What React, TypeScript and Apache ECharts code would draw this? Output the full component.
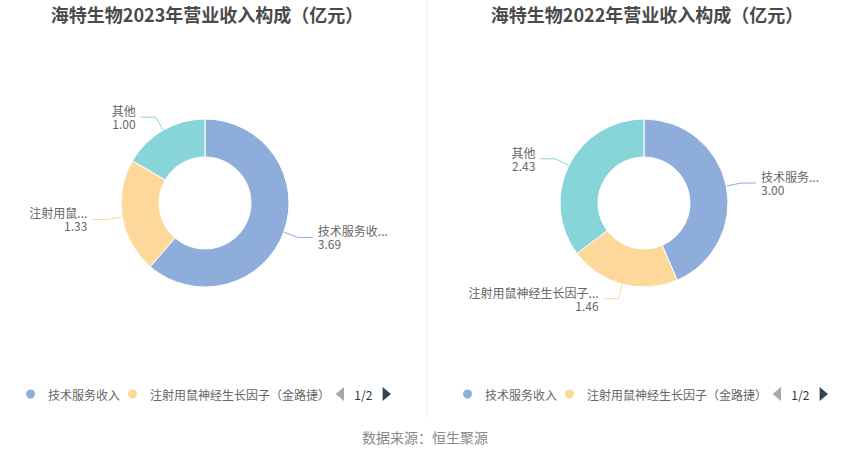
import React, { useEffect, useRef } from "react";
import * as echarts from "echarts";

const categories = ["技术服务收入", "注射用鼠神经生长因子（金路捷）", "其他"];
const values2023 = [3.69, 1.33, 1.0];
const values2022 = [3.0, 1.46, 2.43];
// label names as shortened in the reference (null = use full name, auto-truncated)
const shortNames2023 = ["技术服务收...", null, null];
const shortNames2022 = [null, null, null];
const titles = ["海特生物2023年营业收入构成（亿元）", "海特生物2022年营业收入构成（亿元）"];
const colors = ["#8faddb", "#fed89b", "#88d5d9"];
const sourceText = "数据来源：恒生聚源";

const FONT = "'Noto Sans CJK SC', 'Noto Sans', sans-serif";

export default function App() {
  const ref = useRef<HTMLDivElement>(null);
  useEffect(() => {
    if (!ref.current) return;
    const chart = echarts.init(ref.current, undefined, { renderer: "svg" });
    const mkSeries = (vals: number[], left: number, width: number, cx: number, shortNames: (string | null)[]) => ({
      type: "pie",
      left,
      width,
      top: 0,
      height: 458,
      center: [cx - left, 203],
      radius: [46, 84],
      startAngle: 90,
      clockwise: true,
      itemStyle: { borderColor: "#fff", borderWidth: 1 },
      label: {
        show: true,
        color: "#666",
        fontSize: 12,
        lineHeight: 13,
        fontFamily: FONT,
        formatter: (p: any) => (shortNames[p.dataIndex] ?? p.name) + "\n" + Number(p.value).toFixed(2),
      },
      labelLine: { length: 15, length2: 15 },
      data: categories.map((c, i) => ({ name: c, value: vals[i], itemStyle: { color: colors[i] } })),
    });
    const mkLegend = (left: number) => ({
      type: "scroll",
      orient: "horizontal",
      left,
      top: 382,
      width: 367,
      itemWidth: 25,
      itemHeight: 11,
      itemGap: 6,
      icon: "circle",
      formatter: (name: string) => (name === categories[2] ? name + "\u3000" : name),
      textStyle: { color: "#666", fontSize: 12, fontFamily: FONT },
      pageIconColor: "#2f4554",
      pageIconInactiveColor: "#aaa",
      pageIconSize: 14,
      pageButtonGap: 8,
      pageTextStyle: { color: "#333", fontSize: 12, fontFamily: FONT },
      data: categories,
    });
    chart.setOption({
      animation: false,
      color: colors,
      title: [
        {
          text: titles[0],
          left: 202,
          top: 0,
          textAlign: "center",
          textStyle: { fontSize: 18, fontWeight: "bold", color: "#4a4a4a", fontFamily: FONT },
        },
        {
          text: titles[1],
          left: 642,
          top: 0,
          textAlign: "center",
          textStyle: { fontSize: 18, fontWeight: "bold", color: "#4a4a4a", fontFamily: FONT },
        },
      ],
      legend: [mkLegend(19), mkLegend(456)],
      graphic: [
        {
          type: "line",
          shape: { x1: 427, y1: 0, x2: 427, y2: 418 },
          style: { stroke: "#ebebeb", lineWidth: 1 },
        },
        {
          type: "text",
          x: 425,
          y: 437,
          style: {
            text: sourceText,
            fill: "#888",
            fontSize: 14,
            fontFamily: FONT,
            textAlign: "center",
            textVerticalAlign: "middle",
          },
        },
      ],
      series: [
        mkSeries(values2023, 15, 400, 205, shortNames2023),
        mkSeries(values2022, 455, 380, 644, shortNames2022),
      ],
    });
    return () => chart.dispose();
  }, []);
  return (
    <div
      ref={ref}
      style={{ position: "fixed", left: 0, top: 0, width: 850, height: 458, background: "#fff" }}
    />
  );
}
